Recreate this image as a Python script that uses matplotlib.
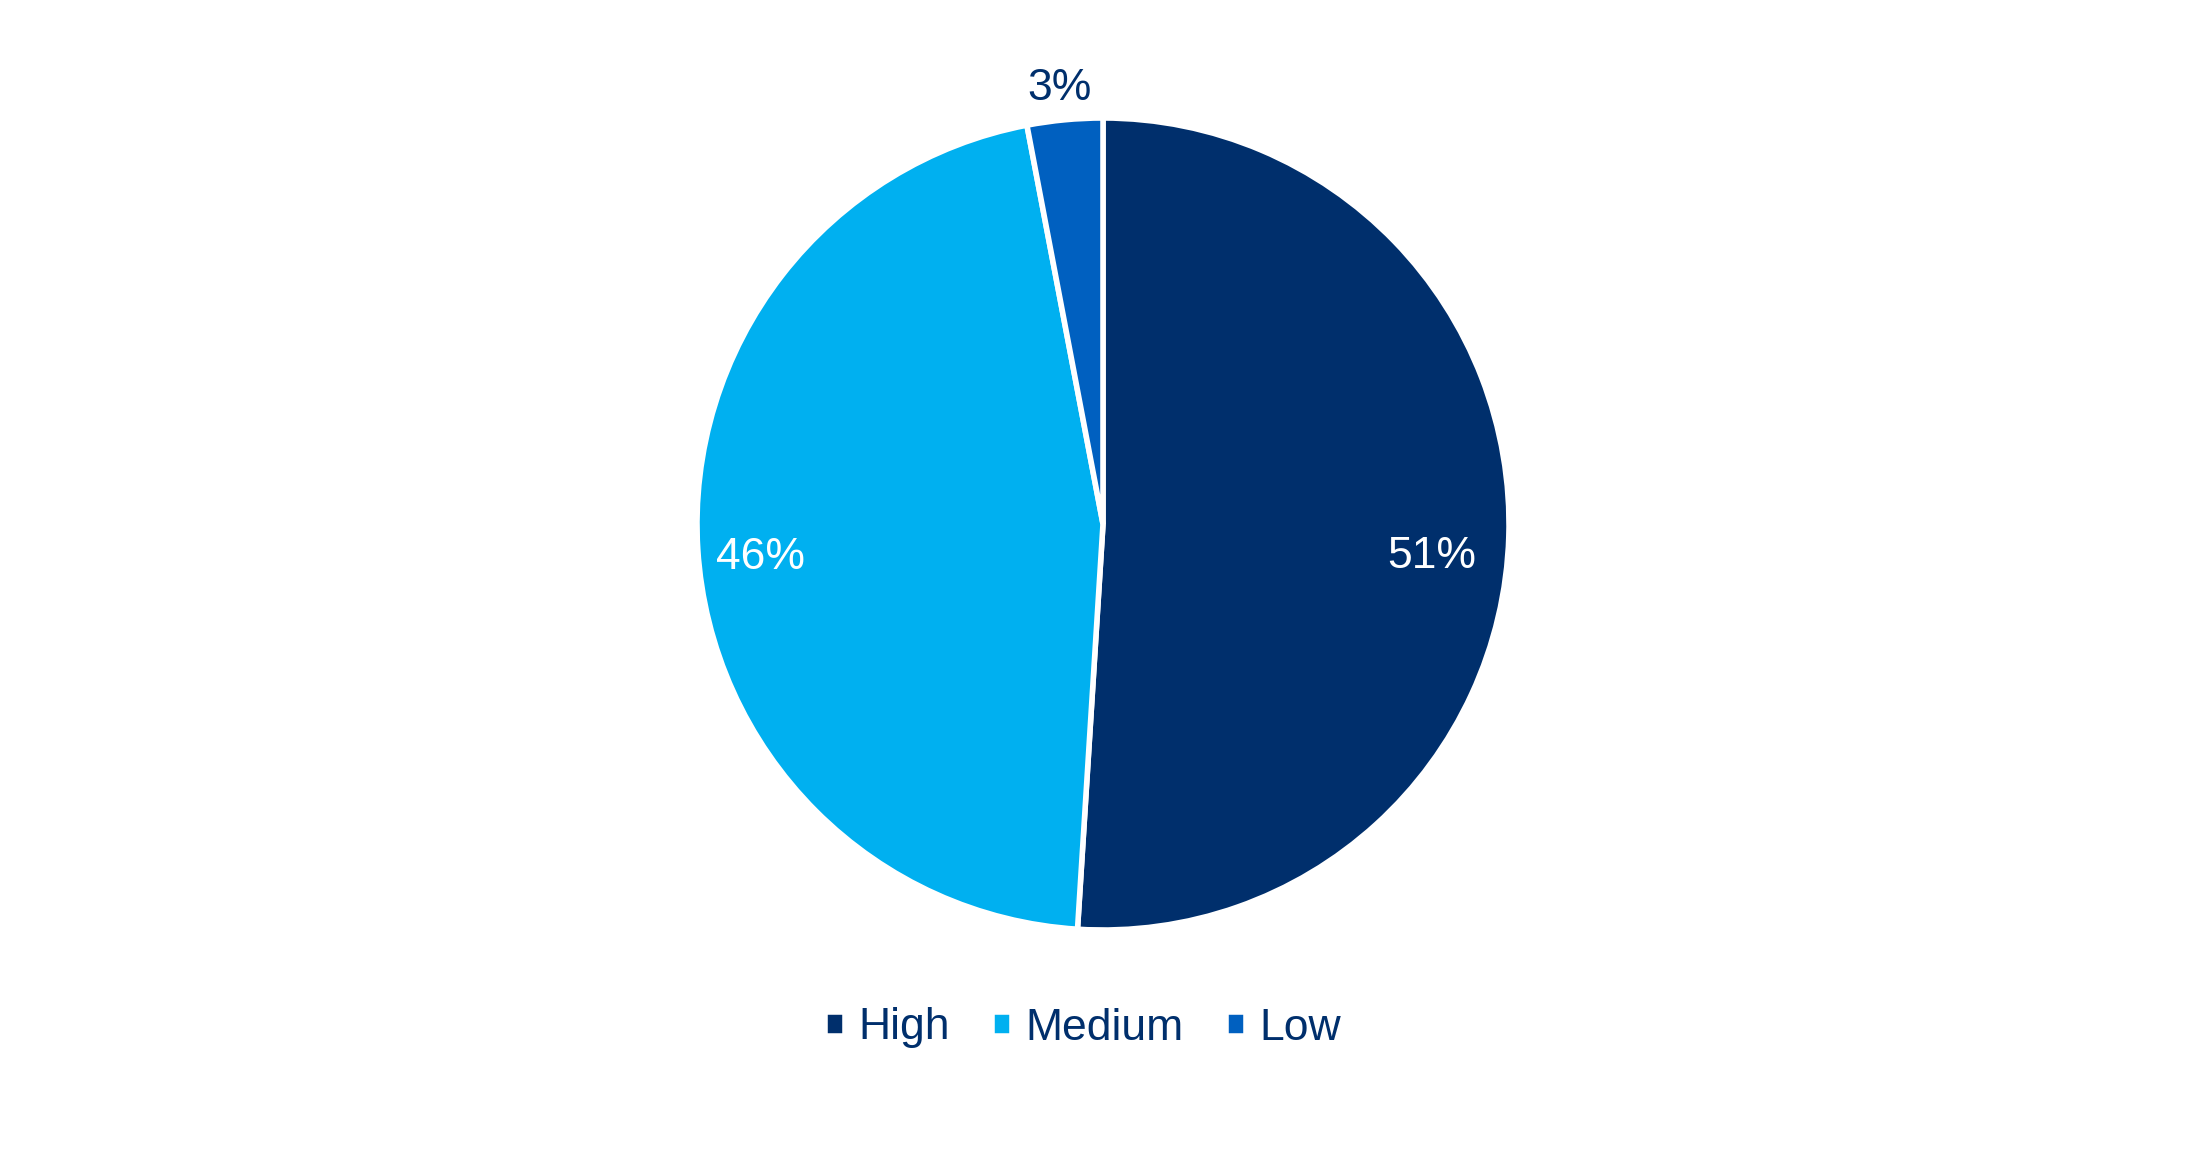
import numpy as np
import matplotlib.pyplot as plt

# shares of the pie
categories = ["High", "Medium", "Low"]
shares = [51, 46, 3]
colors = ["#002F6C", "#00B0F0", "#0060C0"]
label_colors = ["white", "white", "#002F6C"]
label_dist = [0.81, 0.845, 1.09]
label_nudge = [(0.0, -0.055), (0.0, -0.03), (-0.005, -0.012)]

plt.rcParams['font.family'] = ['Liberation Sans', 'DejaVu Sans']

W, H = 2207, 1154
fig = plt.figure(figsize=(W / 100, H / 100), dpi=100)
cx, cy, r = 1103, 524, 406
ax = fig.add_axes([(cx - r) / W, (H - cy - r) / H, 2 * r / W, 2 * r / H])

wedges, _ = ax.pie(shares, colors=colors, startangle=90, counterclock=False,
                   wedgeprops=dict(edgecolor="white", linewidth=4))
ax.set_xlim(-1, 1)
ax.set_ylim(-1, 1)

for w, val, d, (nx, ny), c in zip(wedges, shares, label_dist, label_nudge, label_colors):
    ang = np.deg2rad((w.theta1 + w.theta2) / 2)
    ax.text(d * np.cos(ang) + nx, d * np.sin(ang) + ny, f"{val}%", color=c,
            fontsize=32, ha="center", va="center")

fig.legend(wedges, categories, loc="center", bbox_to_anchor=(1083 / W, 1 - 1028 / H),
           ncol=3, frameon=False, fontsize=32, labelcolor="#002F6C",
           handlelength=0.45, handleheight=0.45, handletextpad=0.3,
           columnspacing=0.95)

fig.savefig("out.png", dpi=100)
